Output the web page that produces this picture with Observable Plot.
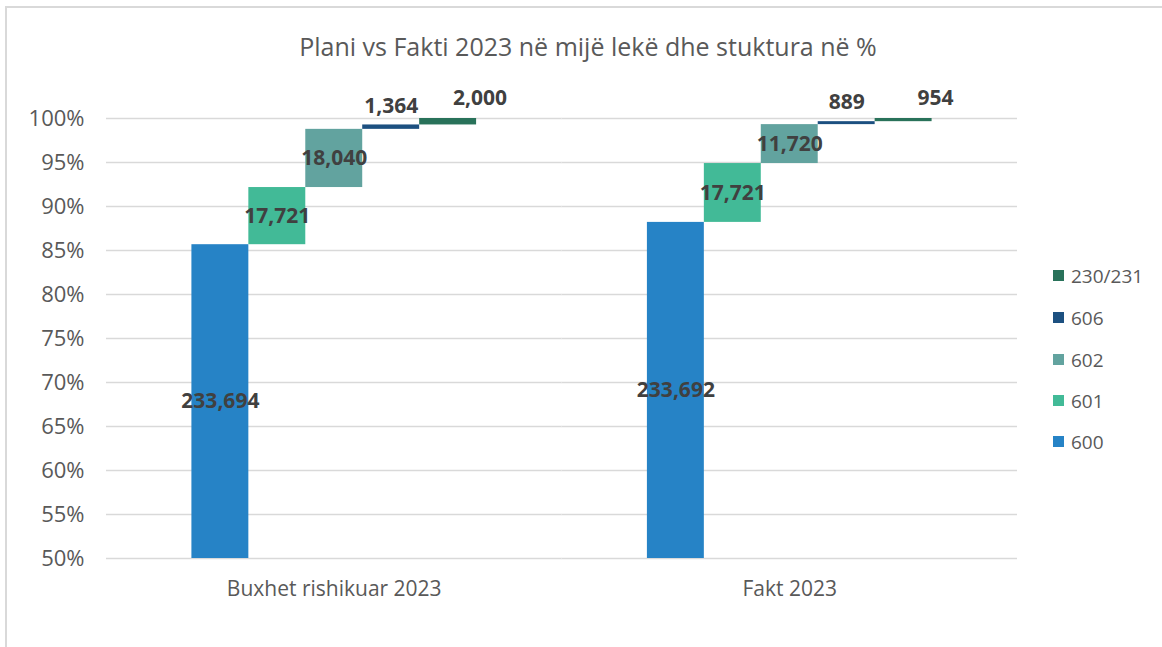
<!DOCTYPE html>
<html>
<head>
<meta charset="utf-8">
<script src="https://cdn.jsdelivr.net/npm/d3@7"></script>
<script src="https://cdn.jsdelivr.net/npm/@observablehq/plot@0.6"></script>
<style>
  html, body { margin: 0; padding: 0; background: #fff; }
  #wrap { position: relative; width: 1162px; height: 647px; overflow: hidden; font-family: "Open Sans", sans-serif; }
  #frame { position: absolute; left: 5px; top: 6px; width: 1180px; height: 670px; border: 2px solid #d9d9d9; box-sizing: border-box; }
  #title { position: absolute; left: 0; width: 1176px; top: 29px; text-align: center; font-size: 25px; color: #595959; line-height: 34px; }
  #legend { position: absolute; left: 1053px; top: 0; font-size: 19px; color: #595959; }
  .item { position: absolute; left: 0; white-space: nowrap; height: 24px; line-height: 24px; }
  .sw { position: absolute; left: 0; top: 6px; width: 11px; height: 11px; }
  .lb { position: absolute; left: 18px; top: 0; }
  #chart { position: absolute; left: 0; top: 0; }
</style>
</head>
<body>
<div id="wrap">
  <div id="frame"></div>
  <div id="chart"></div>
  <div id="title">Plani vs Fakti 2023 në mijë lekë dhe stuktura në %</div>
  <div id="legend"></div>
</div>
<script>
// ---- data ----
const categories = ["Buxhet rishikuar 2023", "Fakt 2023"];
const series = ["600", "601", "602", "606", "230/231"];
const buxhetValues = [233694, 17721, 18040, 1364, 2000];
const faktValues = [233692, 17721, 11720, 889, 954];
const seriesColors = ["#2683C6", "#42BA97", "#62A39F", "#1C5080", "#29725A"];
const yTicks = [0.5, 0.55, 0.6, 0.65, 0.7, 0.75, 0.8, 0.85, 0.9, 0.95, 1.0];

// ---- build rows (cumulative share of total) ----
const rows = [];
[buxhetValues, faktValues].forEach((vals, ci) => {
  const total = d3.sum(vals);
  let acc = 0;
  vals.forEach((v, si) => {
    const start = si === 0 ? 0 : acc / total;
    acc += v;
    const end = acc / total;
    rows.push({
      category: categories[ci],
      series: series[si],
      value: v,
      start, end,
      mid: (Math.max(start, 0.5) + end) / 2,
      small: (end - start) < 0.02
    });
  });
});

const fmt = d3.format(",");
const plot = Plot.plot({
  width: 1162,
  height: 647,
  marginLeft: 106,
  marginRight: 145,
  marginTop: 118,
  marginBottom: 89,
  style: { fontFamily: "Open Sans, sans-serif", fontSize: "21px", color: "#595959", background: "transparent" },
  fx: { domain: categories, padding: 0, round: false, tickSize: 0, tickPadding: 23, label: null, axis: "bottom" },
  x: { domain: series, paddingInner: 0, paddingOuter: 1.5, round: false, axis: null },
  y: { domain: [0.5, 1.0], clamp: true, axis: null },
  color: { domain: series, range: seriesColors },
  marks: [
    Plot.gridY(yTicks, { stroke: "#d9d9d9", strokeOpacity: 1, strokeWidth: 1.5 }),
    Plot.axisY(yTicks, { tickSize: 0, tickPadding: 22, tickFormat: d3.format(".0%"), label: null, fontSize: 22 }),
    Plot.rectY(rows, { fx: "category", x: "series", y1: "start", y2: "end", fill: "series" }),
    Plot.text(rows.filter(d => !d.small), {
      fx: "category", x: "series", y: "mid", text: d => fmt(d.value),
      fill: "#404040", fontWeight: "bold", fontSize: 21
    }),
    Plot.text(rows.filter(d => d.small && d.series === "606"), {
      fx: "category", x: "series", y: "end", text: d => fmt(d.value),
      fill: "#404040", fontWeight: "bold", fontSize: 21, dy: -19
    }),
    Plot.text(rows.filter(d => d.small && d.series === "230/231"), {
      fx: "category", x: "series", y: "end", text: d => fmt(d.value),
      fill: "#404040", fontWeight: "bold", fontSize: 21, dy: -20, dx: 32
    })
  ]
});
document.getElementById("chart").appendChild(plot);

// ---- legend (top to bottom: reversed series order) ----
const legend = document.getElementById("legend");
const legendTops = [276, 318, 360, 401, 442];
series.slice().reverse().forEach((s, i) => {
  const idx = series.indexOf(s);
  const item = document.createElement("div");
  item.className = "item";
  item.style.top = (legendTops[i] - 12) + "px";
  item.innerHTML = `<span class="sw" style="background:${seriesColors[idx]}"></span><span class="lb">${s}</span>`;
  legend.appendChild(item);
});
</script>
</body>
</html>
